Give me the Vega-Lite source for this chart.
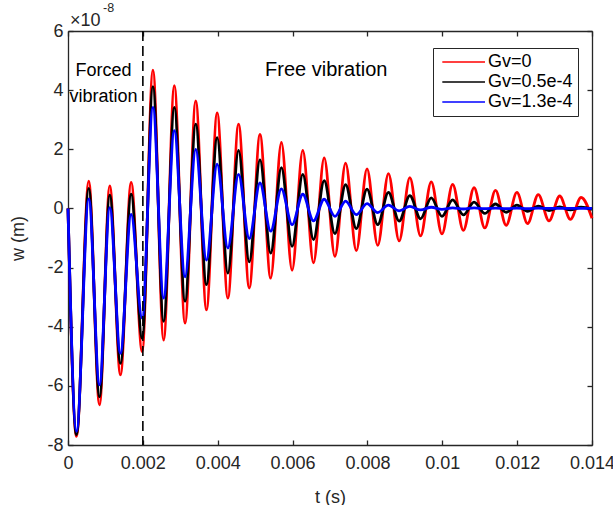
{
"$schema": "https://vega.github.io/schema/vega-lite/v6.json",
"width": 524, "height": 414,
"autosize": {"type": "none"},
"padding": {"left": 68, "top": 31, "right": 21, "bottom": 60},
"background": "white",
"config": {
  "font": "Liberation Sans",
  "view": {"stroke": null},
  "axis": {"grid": false, "domainColor": "#262626", "domainWidth": 1.3, "tickColor": "#262626", "tickWidth": 1.3, "tickSize": -5, "labelColor": "#262626", "labelFontSize": 18, "labelFont": "Liberation Sans", "titleFont": "Liberation Sans", "titleFontSize": 18, "titleFontWeight": "normal", "titleColor": "#262626", "labelFlush": false, "labelOverlap": false}
},
"layer": [
  {
    "data": {"values": [
{"t":0,"w":0,"s":"Gv=0"},{"t":0.000227,"w":-7.71,"s":"Gv=0"},{"t":0.000555,"w":0.92,"s":"Gv=0"},{"t":0.000841,"w":-6.64,"s":"Gv=0"},{"t":0.001116,"w":0.76,"s":"Gv=0"},{"t":0.001401,"w":-5.63,"s":"Gv=0"},{"t":0.001687,"w":0.88,"s":"Gv=0"},{"t":0.001981,"w":-4.84,"s":"Gv=0"},{"t":0.002269,"w":4.68,"s":"Gv=0"},{"t":0.002555,"w":-4.45,"s":"Gv=0"},{"t":0.002841,"w":4.15,"s":"Gv=0"},{"t":0.003127,"w":-3.88,"s":"Gv=0"},{"t":0.003413,"w":3.64,"s":"Gv=0"},{"t":0.003699,"w":-3.43,"s":"Gv=0"},{"t":0.003985,"w":3.23,"s":"Gv=0"},{"t":0.004271,"w":-3.03,"s":"Gv=0"},{"t":0.004557,"w":2.85,"s":"Gv=0"},{"t":0.004843,"w":-2.69,"s":"Gv=0"},{"t":0.005129,"w":2.50,"s":"Gv=0"},{"t":0.005415,"w":-2.36,"s":"Gv=0"},{"t":0.005701,"w":2.23,"s":"Gv=0"},{"t":0.005987,"w":-2.09,"s":"Gv=0"},{"t":0.006273,"w":1.96,"s":"Gv=0"},{"t":0.006559,"w":-1.84,"s":"Gv=0"},{"t":0.006845,"w":1.71,"s":"Gv=0"},{"t":0.007131,"w":-1.62,"s":"Gv=0"},{"t":0.007417,"w":1.53,"s":"Gv=0"},{"t":0.007703,"w":-1.43,"s":"Gv=0"},{"t":0.007989,"w":1.34,"s":"Gv=0"},{"t":0.008275,"w":-1.25,"s":"Gv=0"},{"t":0.008561,"w":1.18,"s":"Gv=0"},{"t":0.008847,"w":-1.10,"s":"Gv=0"},{"t":0.009133,"w":1.04,"s":"Gv=0"},{"t":0.009419,"w":-0.93,"s":"Gv=0"},{"t":0.009705,"w":0.90,"s":"Gv=0"},{"t":0.009991,"w":-0.86,"s":"Gv=0"},{"t":0.010277,"w":0.81,"s":"Gv=0"},{"t":0.010563,"w":-0.74,"s":"Gv=0"},{"t":0.010849,"w":0.70,"s":"Gv=0"},{"t":0.011135,"w":-0.66,"s":"Gv=0"},{"t":0.011421,"w":0.61,"s":"Gv=0"},{"t":0.011707,"w":-0.57,"s":"Gv=0"},{"t":0.011993,"w":0.54,"s":"Gv=0"},{"t":0.012279,"w":-0.51,"s":"Gv=0"},{"t":0.012565,"w":0.47,"s":"Gv=0"},{"t":0.012851,"w":-0.42,"s":"Gv=0"},{"t":0.013137,"w":0.42,"s":"Gv=0"},{"t":0.013423,"w":-0.37,"s":"Gv=0"},{"t":0.013709,"w":0.37,"s":"Gv=0"},{"t":0.014,"w":-0.33,"s":"Gv=0"},
{"t":0,"w":0,"s":"Gv=0.5e-4"},{"t":0.000227,"w":-7.65,"s":"Gv=0.5e-4"},{"t":0.000555,"w":0.68,"s":"Gv=0.5e-4"},{"t":0.000841,"w":-6.37,"s":"Gv=0.5e-4"},{"t":0.001116,"w":0.45,"s":"Gv=0.5e-4"},{"t":0.001401,"w":-5.24,"s":"Gv=0.5e-4"},{"t":0.001687,"w":0.48,"s":"Gv=0.5e-4"},{"t":0.001981,"w":-4.39,"s":"Gv=0.5e-4"},{"t":0.002269,"w":4.12,"s":"Gv=0.5e-4"},{"t":0.002555,"w":-3.82,"s":"Gv=0.5e-4"},{"t":0.002841,"w":3.42,"s":"Gv=0.5e-4"},{"t":0.003127,"w":-3.14,"s":"Gv=0.5e-4"},{"t":0.003413,"w":2.85,"s":"Gv=0.5e-4"},{"t":0.003699,"w":-2.58,"s":"Gv=0.5e-4"},{"t":0.003985,"w":2.39,"s":"Gv=0.5e-4"},{"t":0.004271,"w":-2.19,"s":"Gv=0.5e-4"},{"t":0.004557,"w":1.96,"s":"Gv=0.5e-4"},{"t":0.004843,"w":-1.81,"s":"Gv=0.5e-4"},{"t":0.005129,"w":1.64,"s":"Gv=0.5e-4"},{"t":0.005415,"w":-1.51,"s":"Gv=0.5e-4"},{"t":0.005701,"w":1.38,"s":"Gv=0.5e-4"},{"t":0.005987,"w":-1.28,"s":"Gv=0.5e-4"},{"t":0.006273,"w":1.15,"s":"Gv=0.5e-4"},{"t":0.006559,"w":-1.05,"s":"Gv=0.5e-4"},{"t":0.006845,"w":0.94,"s":"Gv=0.5e-4"},{"t":0.007131,"w":-0.85,"s":"Gv=0.5e-4"},{"t":0.007417,"w":0.80,"s":"Gv=0.5e-4"},{"t":0.007703,"w":-0.68,"s":"Gv=0.5e-4"},{"t":0.007989,"w":0.65,"s":"Gv=0.5e-4"},{"t":0.008275,"w":-0.55,"s":"Gv=0.5e-4"},{"t":0.008561,"w":0.54,"s":"Gv=0.5e-4"},{"t":0.008847,"w":-0.43,"s":"Gv=0.5e-4"},{"t":0.009133,"w":0.43,"s":"Gv=0.5e-4"},{"t":0.009419,"w":-0.35,"s":"Gv=0.5e-4"},{"t":0.009705,"w":0.36,"s":"Gv=0.5e-4"},{"t":0.009991,"w":-0.27,"s":"Gv=0.5e-4"},{"t":0.010277,"w":0.29,"s":"Gv=0.5e-4"},{"t":0.010563,"w":-0.22,"s":"Gv=0.5e-4"},{"t":0.010849,"w":0.21,"s":"Gv=0.5e-4"},{"t":0.011135,"w":-0.17,"s":"Gv=0.5e-4"},{"t":0.011421,"w":0.15,"s":"Gv=0.5e-4"},{"t":0.011707,"w":-0.13,"s":"Gv=0.5e-4"},{"t":0.011993,"w":0.11,"s":"Gv=0.5e-4"},{"t":0.012279,"w":-0.10,"s":"Gv=0.5e-4"},{"t":0.012565,"w":0.08,"s":"Gv=0.5e-4"},{"t":0.012851,"w":-0.07,"s":"Gv=0.5e-4"},{"t":0.013137,"w":0.05,"s":"Gv=0.5e-4"},{"t":0.013423,"w":-0.05,"s":"Gv=0.5e-4"},{"t":0.013709,"w":0.04,"s":"Gv=0.5e-4"},{"t":0.014,"w":-0.03,"s":"Gv=0.5e-4"},
{"t":0,"w":0,"s":"Gv=1.3e-4"},{"t":0.000227,"w":-7.54,"s":"Gv=1.3e-4"},{"t":0.000555,"w":0.32,"s":"Gv=1.3e-4"},{"t":0.000841,"w":-5.97,"s":"Gv=1.3e-4"},{"t":0.001116,"w":0.03,"s":"Gv=1.3e-4"},{"t":0.001401,"w":-4.90,"s":"Gv=1.3e-4"},{"t":0.001687,"w":-0.20,"s":"Gv=1.3e-4"},{"t":0.001981,"w":-3.71,"s":"Gv=1.3e-4"},{"t":0.002269,"w":3.42,"s":"Gv=1.3e-4"},{"t":0.002555,"w":-3.03,"s":"Gv=1.3e-4"},{"t":0.002841,"w":2.63,"s":"Gv=1.3e-4"},{"t":0.003127,"w":-2.31,"s":"Gv=1.3e-4"},{"t":0.003413,"w":2.00,"s":"Gv=1.3e-4"},{"t":0.003699,"w":-1.75,"s":"Gv=1.3e-4"},{"t":0.003985,"w":1.50,"s":"Gv=1.3e-4"},{"t":0.004271,"w":-1.34,"s":"Gv=1.3e-4"},{"t":0.004557,"w":1.15,"s":"Gv=1.3e-4"},{"t":0.004843,"w":-1.02,"s":"Gv=1.3e-4"},{"t":0.005129,"w":0.86,"s":"Gv=1.3e-4"},{"t":0.005415,"w":-0.77,"s":"Gv=1.3e-4"},{"t":0.005701,"w":0.66,"s":"Gv=1.3e-4"},{"t":0.005987,"w":-0.55,"s":"Gv=1.3e-4"},{"t":0.006273,"w":0.48,"s":"Gv=1.3e-4"},{"t":0.006559,"w":-0.42,"s":"Gv=1.3e-4"},{"t":0.006845,"w":0.31,"s":"Gv=1.3e-4"},{"t":0.007131,"w":-0.27,"s":"Gv=1.3e-4"},{"t":0.007417,"w":0.25,"s":"Gv=1.3e-4"},{"t":0.007703,"w":-0.21,"s":"Gv=1.3e-4"},{"t":0.007989,"w":0.16,"s":"Gv=1.3e-4"},{"t":0.008275,"w":-0.14,"s":"Gv=1.3e-4"},{"t":0.008561,"w":0.11,"s":"Gv=1.3e-4"},{"t":0.008847,"w":-0.08,"s":"Gv=1.3e-4"},{"t":0.009133,"w":0.07,"s":"Gv=1.3e-4"},{"t":0.009419,"w":-0.05,"s":"Gv=1.3e-4"},{"t":0.009705,"w":0.04,"s":"Gv=1.3e-4"},{"t":0.009991,"w":-0.03,"s":"Gv=1.3e-4"},{"t":0.010277,"w":0.02,"s":"Gv=1.3e-4"},{"t":0.010563,"w":-0.02,"s":"Gv=1.3e-4"},{"t":0.010849,"w":0.02,"s":"Gv=1.3e-4"},{"t":0.011135,"w":-0.01,"s":"Gv=1.3e-4"},{"t":0.011421,"w":0.01,"s":"Gv=1.3e-4"},{"t":0.011707,"w":-0.01,"s":"Gv=1.3e-4"},{"t":0.011993,"w":0.01,"s":"Gv=1.3e-4"},{"t":0.012279,"w":-0.01,"s":"Gv=1.3e-4"},{"t":0.012565,"w":0.01,"s":"Gv=1.3e-4"},{"t":0.012851,"w":0,"s":"Gv=1.3e-4"},{"t":0.013137,"w":0,"s":"Gv=1.3e-4"},{"t":0.013423,"w":0,"s":"Gv=1.3e-4"},{"t":0.013709,"w":0,"s":"Gv=1.3e-4"},{"t":0.014,"w":0,"s":"Gv=1.3e-4"}
    ]},
    "mark": {"type": "line", "interpolate": "monotone", "strokeWidth": 2.8},
    "encoding": {
      "x": {"field": "t", "type": "quantitative", "scale": {"domain": [0, 0.014], "nice": false, "zero": false},
            "axis": {"orient": "bottom", "values": [0, 0.002, 0.004, 0.006, 0.008, 0.01, 0.012, 0.014], "format": "~g", "title": "t (s)", "labelPadding": 14, "titlePadding": 16}},
      "y": {"field": "w", "type": "quantitative", "scale": {"domain": [-8, 6], "nice": false},
            "axis": {"orient": "left", "values": [-8, -6, -4, -2, 0, 2, 4, 6], "labelExpr": "'' + datum.value", "title": "w (m)", "labelPadding": 10, "titlePadding": 19}},
      "color": {"field": "s", "type": "nominal",
                "scale": {"domain": ["Gv=0", "Gv=0.5e-4", "Gv=1.3e-4"], "range": ["#ff0000", "#000000", "#0000ff"]},
                "legend": {"orient": "none", "legendX": 365, "legendY": 17, "title": null, "symbolType": "M-1,0H8.1", "symbolSize": 88, "symbolStrokeWidth": 1.6, "labelFontSize": 18, "labelFont": "Liberation Sans", "labelColor": "#000000", "labelOffset": 32, "padding": 5, "rowPadding": 2, "strokeColor": "#262626", "fillColor": "white", "labelLimit": 300}}
    }
  },
  {
    "data": {"values": [{"t": 0.002}]},
    "mark": {"type": "rule", "color": "#000000", "strokeWidth": 1.6, "strokeDash": [10, 5]},
    "encoding": {"x": {"field": "t", "type": "quantitative", "axis": null}}
  },
  {
    "data": {"values": [{"t": 0.00095, "w": 4.49, "label": "Forced"}, {"t": 0.00095, "w": 3.61, "label": "vibration"}]},
    "mark": {"type": "text", "fontSize": 18, "align": "center", "baseline": "alphabetic", "color": "#000000", "font": "Liberation Sans"},
    "encoding": {
      "x": {"field": "t", "type": "quantitative", "axis": null},
      "y": {"field": "w", "type": "quantitative", "axis": null},
      "text": {"field": "label"}
    }
  },
  {
    "data": {"values": [{"t": 0, "w": 6, "label": "×10"}]},
    "mark": {"type": "text", "fontSize": 18, "align": "left", "baseline": "alphabetic", "dx": 2, "dy": -5, "color": "#262626", "font": "Liberation Sans"},
    "encoding": {
      "x": {"field": "t", "type": "quantitative", "axis": null},
      "y": {"field": "w", "type": "quantitative", "axis": null},
      "text": {"field": "label"}
    }
  },
  {
    "data": {"values": [{"t": 0, "w": 6, "label": "-8"}]},
    "mark": {"type": "text", "fontSize": 12.5, "align": "left", "baseline": "alphabetic", "dx": 35, "dy": -19, "color": "#262626", "font": "Liberation Sans"},
    "encoding": {
      "x": {"field": "t", "type": "quantitative", "axis": null},
      "y": {"field": "w", "type": "quantitative", "axis": null},
      "text": {"field": "label"}
    }
  },
  {
    "data": {"values": [{"t": 0.0069, "w": 4.48, "label": "Free vibration"}]},
    "mark": {"type": "text", "fontSize": 20, "align": "center", "baseline": "alphabetic", "color": "#000000", "font": "Liberation Sans"},
    "encoding": {
      "x": {"field": "t", "type": "quantitative", "axis": {"orient": "top", "values": [0, 0.002, 0.004, 0.006, 0.008, 0.01, 0.012, 0.014], "labels": false, "title": null}},
      "y": {"field": "w", "type": "quantitative", "axis": {"orient": "right", "values": [-8, -6, -4, -2, 0, 2, 4, 6], "labels": false, "title": null}},
      "text": {"field": "label"}
    }
  }
],
"resolve": {"axis": {"x": "independent", "y": "independent"}}
}
